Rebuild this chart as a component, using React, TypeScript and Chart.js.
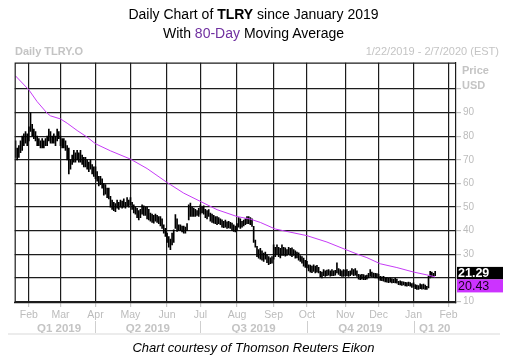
import React, { useEffect, useRef } from 'react';
import { Chart, registerables } from 'chart.js';

Chart.register(...registerables);

// Daily high / low per trading day, starting 1/22/2019 (index 0)
const highs: number[] = [
  78, 75, 76, 78, 80, 81, 82, 81, 84, 90,
  85, 83, 82, 80, 79, 78, 79, 78, 79, 80,
  83, 82, 80, 81, 80, 83, 82, 80, 79, 79,
  78, 76, 75, 70, 72, 74, 73, 74, 73, 74,
  72, 71, 71, 70, 69, 70, 68, 67, 67, 65,
  63, 63, 62, 60, 59.5, 58, 58, 54.5, 53, 52,
  51.5, 53, 52, 53, 52.5, 53.5, 52, 54, 53, 54,
  52, 51, 50, 49.5, 48.5, 49, 51, 50.5, 50, 50,
  49, 47.5, 47, 46.5, 47, 46.5, 46, 46, 45, 42.5,
  41, 39, 37.5, 36.5, 39, 40.4, 46.8, 45, 42.5, 42.5,
  42, 42, 41.5, 43, 51, 51.7, 50, 49.6, 49, 48.5,
  49.5, 51, 50, 50.5, 49, 48.5, 48.9, 47.5, 47, 46.5,
  46, 46, 45.5, 45, 44.6, 44, 44.5, 43.8, 44, 43.5,
  43.2, 42.5, 42, 43, 45.5, 45, 44, 44.5, 45, 46,
  46, 45.5, 45, 41.8, 36, 33.4, 32, 32.5, 31.5, 30.5,
  31, 29.9, 29, 28.5, 29, 34, 33, 34, 33, 32.5,
  34, 33, 32.7, 32, 33, 32.5, 32.7, 32, 31.5, 31,
  30.6, 29.5, 29, 28.4, 27.5, 27, 25.6, 25.5, 25, 25.6,
  25, 25.3, 24.5, 22.8, 22.5, 23.5, 23, 23.3, 23.5, 23,
  23.5, 23, 23.2, 26.4, 24, 23.5, 23, 23.5, 23.2, 23.5,
  22.8, 23, 24, 23.5, 24, 23, 21.5, 21.3, 21.5, 21.4,
  21, 21.2, 22, 23.5, 22.5, 22.1, 22, 21.8, 21.5, 20.7,
  20.5, 20.7, 20, 20.2, 19.8, 20, 19.7, 19.5, 19.8, 19.5,
  18.6, 18.8, 18.5, 18.4, 18.2, 18, 18.3, 18, 17.6, 17.9,
  17.2, 17, 16.8, 17.5, 17.2, 17.4, 17, 16.5, 20.7, 22.8,
  22.5, 22, 22.8,
];
const lows: number[] = [
  71, 70, 71, 73, 74, 76, 77, 76, 78, 82,
  80, 79, 78, 76, 76, 75, 75, 75, 76, 76,
  78, 77, 77, 77, 76, 78, 79, 76, 75, 75,
  74, 70, 64, 66, 68, 69, 69, 70, 69, 69,
  68, 67, 67, 66, 65, 66, 64, 63, 62, 61,
  59, 59.5, 58, 55, 55.5, 54, 53.5, 50, 49, 48.5,
  48, 49.5, 49, 50, 49.5, 50, 49.5, 50.5, 50, 51,
  49, 47.5, 47, 45.5, 44.6, 45.5, 47, 46.5, 46.5, 45,
  44.6, 44, 43.5, 43.2, 44, 43.5, 43, 42, 41, 39,
  37.6, 35, 33, 32, 34, 35, 41, 39.7, 40, 40,
  39.5, 39, 39, 40, 44.6, 46, 46, 46, 46, 46.5,
  46, 47, 47.5, 47, 45.5, 45, 46, 44, 43.5, 43.2,
  43, 42.5, 43, 42.5, 41.5, 41.3, 41.5, 41, 41.2, 41,
  40, 39.7, 39.5, 40, 41.5, 41, 41.5, 42, 42.5, 43,
  43, 42.5, 41.8, 35, 33, 29, 28.4, 28, 27.5, 27,
  28, 26.5, 25.6, 26, 26.3, 28, 29, 30, 29, 28.5,
  29.5, 29.5, 29.2, 29.5, 30, 29.5, 29, 29.5, 28.4, 28.5,
  27.5, 27, 26.3, 25, 24.5, 24.2, 23, 22.5, 22.2, 22.8,
  22.1, 22.5, 22.1, 20.5, 20, 21, 20.7, 21, 21.2, 20.8,
  21, 21, 21.2, 22.1, 21.5, 21, 20.7, 20.7, 21, 21,
  20.7, 21, 21.5, 21, 21.2, 20.7, 19.5, 19.3, 19.5, 19.3,
  19.3, 19.5, 20, 20.7, 20.5, 20.2, 20, 20, 19.5, 19,
  18.8, 18.6, 18.3, 18.2, 18, 18.2, 17.9, 18, 17.9, 17.8,
  17.2, 17, 16.8, 17, 16.6, 16.5, 16.7, 16.5, 16, 16.2,
  15.5, 15.2, 15.1, 15.5, 15.3, 15.4, 15.1, 15.1, 15.8, 20,
  20.5, 20.8, 21,
];

// 80-day moving average, read at selected trading-day indices
const maIndex: number[] = [0, 8, 13, 19, 21, 27, 31, 37, 43, 48, 57, 69, 79, 91, 101, 111, 121, 133, 141, 147, 156, 175, 187, 199, 207, 211, 219, 229, 239, 247, 252];
const maValues: number[] = [105.5, 99.6, 94.6, 89.7, 88.6, 87.3, 85.5, 82.4, 79.6, 76.8, 73.8, 70.3, 66.3, 60.4, 55.9, 52.4, 48.9, 46, 44.9, 43.5, 40.7, 37.9, 35.2, 31.8, 29.6, 28.6, 26.0, 24.4, 22.5, 21.3, 20.43];

// Axis labels
const monthTickIndex: number[] = [8, 27, 48, 69, 91, 111, 133, 155, 175, 198, 218, 239, 260];
const monthLabels: string[] = ['Feb', 'Mar', 'Apr', 'May', 'Jun', 'Jul', 'Aug', 'Sep', 'Oct', 'Nov', 'Dec', 'Jan', 'Feb'];
const quarterLabels: string[] = ['Q1 2019', 'Q2 2019', 'Q3 2019', 'Q4 2019', 'Q1 20'];
const quarterBounds: number[] = [-0.5, 48, 111, 175, 239, 264.5];
const yTickValues: number[] = [10, 20, 30, 40, 50, 60, 70, 80, 90, 100];
const lastPrice = 21.29;
const lastMA = 20.43;

const GRID = '#1c1c1c';
const LABEL = '#bcbcbc';
const MA_COLOR = '#c63cf6';
const BOX_MA = '#cc33ff';

export default function App() {
  const ref = useRef<HTMLCanvasElement | null>(null);

  useEffect(() => {
    const canvas = ref.current;
    if (!canvas) return;

    const extras = {
      id: 'extras',
      afterDraw(chart: any) {
        const { ctx, chartArea } = chart;
        const xs = chart.scales.x;
        const ys = chart.scales.y;
        ctx.save();
        // frame top + left
        ctx.strokeStyle = GRID;
        ctx.lineWidth = 1.2;
        ctx.beginPath();
        ctx.moveTo(chartArea.left + 0.5, chartArea.bottom);
        ctx.lineTo(chartArea.left + 0.5, chartArea.top + 0.5);
        ctx.lineTo(chartArea.right, chartArea.top + 0.5);
        ctx.stroke();
        // quarter labels
        ctx.fillStyle = '#c4c4c4';
        ctx.font = 'bold 11.5px "Liberation Sans", Arial, sans-serif';
        ctx.textAlign = 'center';
        ctx.textBaseline = 'alphabetic';
        for (let i = 0; i < quarterLabels.length; i++) {
          const a = xs.getPixelForValue(quarterBounds[i]);
          const b = xs.getPixelForValue(quarterBounds[i + 1]);
          let c = (a + b) / 2;
          if (i === 0) c += 4;
          ctx.fillText(quarterLabels[i], c, 332);
        }
        ctx.strokeStyle = '#cfcfcf';
        ctx.lineWidth = 1;
        for (let i = 1; i < quarterBounds.length - 1; i++) {
          const x = Math.round(xs.getPixelForValue(quarterBounds[i])) + 0.5;
          ctx.beginPath();
          ctx.moveTo(x, 321);
          ctx.lineTo(x, 333);
          ctx.stroke();
        }
        // last value boxes
        const yP = ys.getPixelForValue(lastPrice);
        const bx = chartArea.right + 1;
        const top1 = yP - 8;
        ctx.fillStyle = '#000';
        ctx.fillRect(bx, top1, 46, 12.5);
        ctx.fillStyle = BOX_MA;
        ctx.fillRect(bx, top1 + 12.5, 46, 13);
        ctx.textAlign = 'left';
        ctx.textBaseline = 'middle';
        ctx.font = 'bold 12.5px "Liberation Sans", Arial, sans-serif';
        ctx.fillStyle = '#fff';
        ctx.fillText(lastPrice.toFixed(2), bx + 1, top1 + 6.5);
        ctx.font = '12.5px "Liberation Sans", Arial, sans-serif';
        ctx.fillStyle = '#1a0020';
        ctx.fillText(lastMA.toFixed(2), bx + 1, top1 + 19.5);
        ctx.restore();
      },
    };

    const chart = new Chart(canvas, {
      type: 'bar',
      data: {
        datasets: [
          {
            type: 'line',
            label: '80-Day MA',
            data: maIndex.map((x, i) => ({ x, y: maValues[i] })),
            borderColor: MA_COLOR,
            borderWidth: 1,
            pointRadius: 0,
            tension: 0,
            order: 0,
          } as any,
          {
            type: 'bar',
            label: 'TLRY',
            data: highs.map((h, i) => ({ x: i, y: [lows[i], h] })),
            backgroundColor: '#000',
            borderWidth: 0,
            barThickness: 1,
            order: 1,
          } as any,
        ],
      },
      options: {
        animation: false,
        responsive: false,
        maintainAspectRatio: false,
        layout: { padding: { left: 14.7, top: 62.7, right: 0, bottom: 0 } },
        plugins: { legend: { display: false }, tooltip: { enabled: false }, title: { display: false } },
        scales: {
          x: {
            type: 'linear',
            min: -0.5,
            max: 264.5,
            offset: false,
            afterBuildTicks: (s: any) => {
              s.ticks = monthTickIndex.map((v) => ({ value: v }));
            },
            afterFit: (s: any) => {
              s.height = 57;
            },
            ticks: {
              autoSkip: false,
              maxRotation: 0,
              color: LABEL,
              padding: 2,
              font: { family: '"Liberation Sans", Arial, sans-serif', size: 10.5 },
              callback: (v: any) => {
                const k = monthTickIndex.indexOf(Number(v));
                return k >= 0 ? monthLabels[k] : '';
              },
            },
            grid: { color: GRID, lineWidth: 1.2, offset: false, tickLength: 4, tickColor: '#c8c8c8', drawTicks: true },
            border: { color: GRID, width: 1.2 },
          },
          y: {
            position: 'right',
            min: 9.4,
            max: 111.1,
            afterBuildTicks: (s: any) => {
              s.ticks = yTickValues.map((v) => ({ value: v }));
            },
            afterFit: (s: any) => {
              s.width = 51;
            },
            ticks: {
              color: LABEL,
              padding: 2,
              font: { family: '"Liberation Sans", Arial, sans-serif', size: 10 },
              callback: (v: any) => (Number(v) === 100 ? '' : String(v)),
            },
            grid: { color: GRID, lineWidth: 1.2, tickLength: 5, tickColor: '#c0c0c0', drawTicks: true },
            border: { color: GRID, width: 1.2 },
          },
        },
      },
      plugins: [extras],
    } as any);

    return () => chart.destroy();
  }, []);

  const gray = '#c4c4c4';
  return (
    <div style={{ position: 'fixed', left: 0, top: 0, width: 507, height: 360, background: '#fff', overflow: 'hidden' }}>
      <canvas ref={ref} width={507} height={360} style={{ position: 'absolute', left: 0, top: 0, width: 507, height: 360 }} />
      <div style={{ position: 'absolute', left: 0, top: 5, width: 507, textAlign: 'center', font: '14px "Liberation Sans", Arial, sans-serif', lineHeight: '18.5px', color: '#000' }}>
        <div>Daily Chart of <b>TLRY</b> since January 2019</div>
        <div>With <span style={{ color: '#7030a0' }}>80-Day</span> Moving Average</div>
      </div>
      <div style={{ position: 'absolute', left: 15, top: 45, font: 'bold 11px "Liberation Sans", Arial, sans-serif', color: gray }}>Daily TLRY.O</div>
      <div style={{ position: 'absolute', right: 8, top: 45, font: '11px "Liberation Sans", Arial, sans-serif', color: gray }}>1/22/2019 - 2/7/2020 (EST)</div>
      <div style={{ position: 'absolute', left: 462, top: 63, font: 'bold 11px "Liberation Sans", Arial, sans-serif', color: gray, lineHeight: '15px' }}>
        <div>Price</div>
        <div>USD</div>
      </div>
      <div style={{ position: 'absolute', left: 8, top: 333, width: 492, height: 2, background: '#ececec' }} />
      <div style={{ position: 'absolute', left: 0, top: 340, width: 507, textAlign: 'center', font: 'italic 13px "Liberation Sans", Arial, sans-serif', color: '#000' }}>
        Chart courtesy of Thomson Reuters Eikon
      </div>
    </div>
  );
}
